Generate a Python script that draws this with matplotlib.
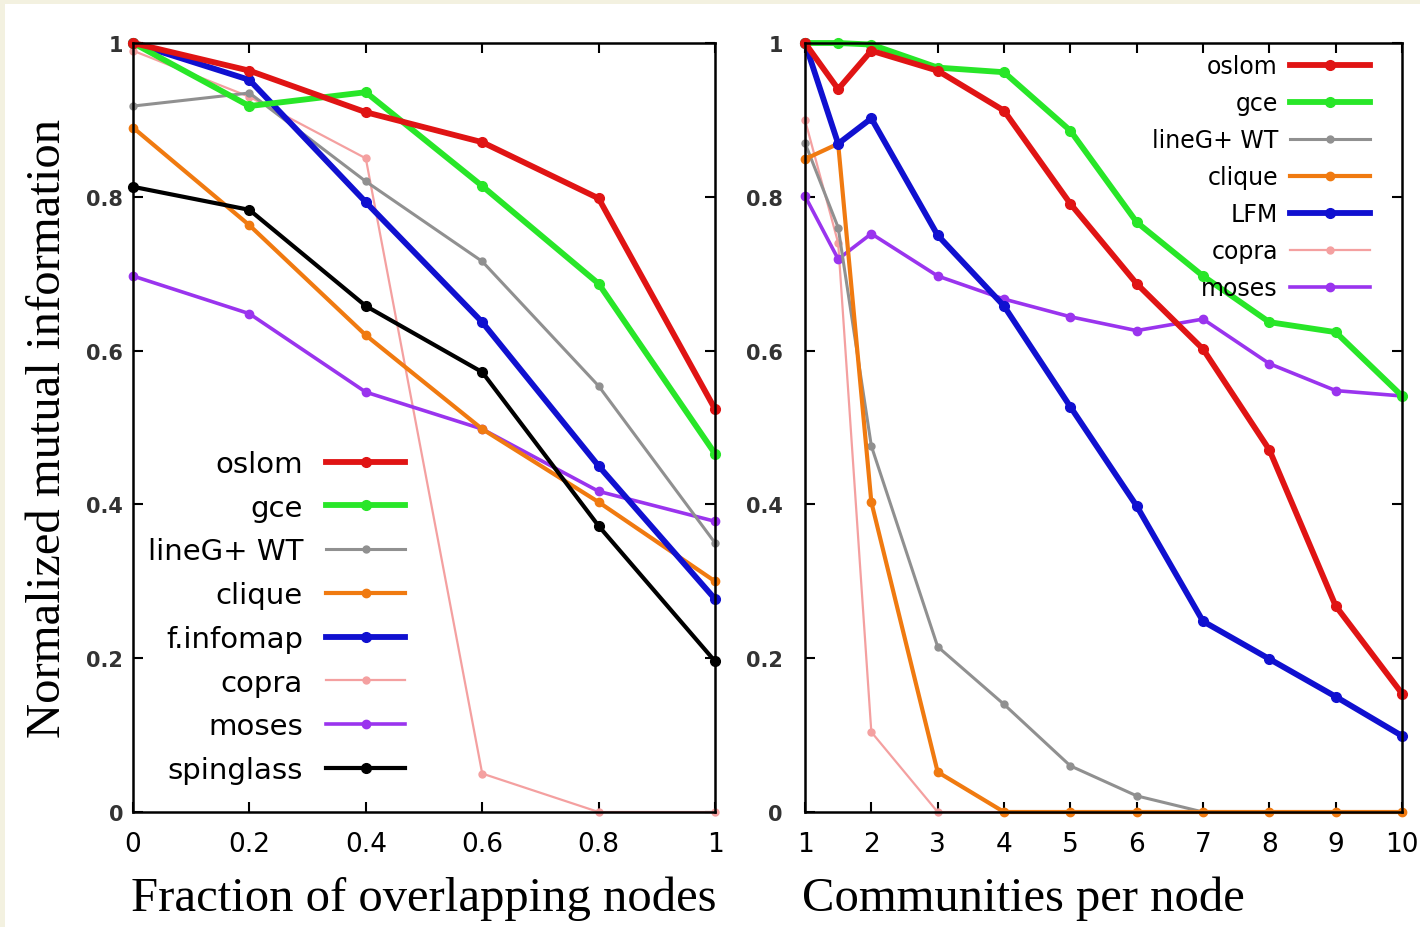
import matplotlib
matplotlib.use("Agg")
import matplotlib.pyplot as plt
from matplotlib.patches import Rectangle

# left panel: fraction of overlapping nodes
frac = [0, 0.2, 0.4, 0.6, 0.8, 1.0]
left_names = ["oslom", "gce", "lineG+ WT", "clique", "f.infomap", "copra", "moses", "spinglass"]
left_vals = {
    "oslom":     [1.00, 0.964, 0.910, 0.871, 0.798, 0.524],
    "gce":       [1.00, 0.918, 0.936, 0.814, 0.687, 0.466],
    "lineG+ WT": [0.918, 0.935, 0.820, 0.716, 0.554, 0.350],
    "clique":    [0.890, 0.763, 0.620, 0.498, 0.403, 0.300],
    "f.infomap": [1.00, 0.952, 0.793, 0.637, 0.450, 0.277],
    "copra":     [0.99, 0.930, 0.850, 0.050, 0.000, 0.000],
    "moses":     [0.697, 0.648, 0.546, 0.498, 0.417, 0.378],
    "spinglass": [0.813, 0.783, 0.658, 0.572, 0.372, 0.196],
}

# right panel: communities per node
comm = [1, 1.5, 2, 3, 4, 5, 6, 7, 8, 9, 10]
right_names = ["oslom", "gce", "lineG+ WT", "clique", "LFM", "copra", "moses"]
right_vals = {
    "oslom":     [1.00, 0.940, 0.990, 0.964, 0.912, 0.791, 0.687, 0.602, 0.471, 0.268, 0.154],
    "gce":       [1.00, 1.000, 0.998, 0.968, 0.962, 0.886, 0.767, 0.697, 0.637, 0.624, 0.541],
    "lineG+ WT": [0.870, 0.760, 0.476, 0.215, 0.140, 0.060, 0.021, 0.0, 0.0, 0.0, 0.0],
    "clique":    [0.849, 0.869, 0.403, 0.052, 0.0, 0.0, 0.0, 0.0, 0.0, 0.0, 0.0],
    "LFM":       [1.00, 0.869, 0.902, 0.750, 0.658, 0.527, 0.398, 0.248, 0.199, 0.150, 0.099],
    "copra":     [0.900, 0.740, 0.104, 0.0, 0.0, 0.0, 0.0, 0.0, 0.0, 0.0, 0.0],
    "moses":     [0.801, 0.719, 0.752, 0.697, 0.667, 0.644, 0.626, 0.641, 0.583, 0.548, 0.541],
}

styles = {
    "oslom":     dict(color="#e01414", lw=4.2, ms=7, z=9),
    "gce":       dict(color="#28e628", lw=4.2, ms=7, z=8),
    "lineG+ WT": dict(color="#909090", lw=2.2, ms=5, z=5),
    "clique":    dict(color="#f07a10", lw=3.0, ms=6, z=6),
    "f.infomap": dict(color="#1010d0", lw=4.2, ms=7, z=7),
    "LFM":       dict(color="#1010d0", lw=4.2, ms=7, z=7),
    "copra":     dict(color="#f4a0a0", lw=1.6, ms=5, z=3),
    "moses":     dict(color="#9a34ee", lw=2.6, ms=6, z=4),
    "spinglass": dict(color="#000000", lw=3.0, ms=7, z=6),
}

sans = ["DejaVu Sans"]
serif = ["Liberation Serif", "DejaVu Serif"]

fig = plt.figure(figsize=(14.2, 9.28), dpi=100, facecolor="#f3f1e0")
fig.add_artist(Rectangle((5 / 1420, 0), 1, 1 - 5 / 928, transform=fig.transFigure,
                         facecolor="white", edgecolor="none", zorder=-10))

ax1 = fig.add_axes([133 / 1420, 1 - 813 / 928, 582 / 1420, 769 / 928])
ax2 = fig.add_axes([805 / 1420, 1 - 813 / 928, 597 / 1420, 769 / 928])


def draw(ax, x, names, vals):
    for n in names:
        s = styles[n]
        ax.plot(x, vals[n], color=s["color"], lw=s["lw"], marker="o", ms=s["ms"],
                label=n, clip_on=False, zorder=s["z"])


draw(ax1, frac, left_names, left_vals)
draw(ax2, comm, right_names, right_vals)

ax1.set_xlim(0, 1)
ax1.set_xticks(frac)
ax1.set_xticklabels(["0", "0.2", "0.4", "0.6", "0.8", "1"])
ax2.set_xlim(1, 10)
ax2.set_xticks(range(1, 11))
ax2.set_xticklabels([str(i) for i in range(1, 11)])

for ax, ypad in ((ax1, 7), (ax2, 16)):
    ax.set_ylim(0, 1)
    ax.set_yticks([0, 0.2, 0.4, 0.6, 0.8, 1])
    ax.set_yticklabels(["0", "0.2", "0.4", "0.6", "0.8", "1"])
    ax.tick_params(direction="in", top=True, right=True, length=7, width=1.5)
    ax.tick_params(axis="x", pad=14, labelsize=19)
    ax.tick_params(axis="y", pad=ypad, labelsize=15)
    for lab in ax.get_yticklabels():
        lab.set_fontweight("bold")
        lab.set_color("#333333")
    for sp in ax.spines.values():
        sp.set_linewidth(1.8)
        sp.set_zorder(10)

ax1.set_xlabel("Fraction of overlapping nodes", family=serif, fontsize=35, labelpad=13)
ax2.set_xlabel("Communities per node", family=serif, fontsize=35, labelpad=13)
ax2.xaxis.label.set_x(0.365)
ax1.set_ylabel("Normalized mutual information", family=serif, fontsize=35)
ax1.yaxis.set_label_coords(-0.108, 0.5)

leg1 = ax1.legend(loc="center right", bbox_to_anchor=((405 - 133) / 582, (813 - 618) / 769),
                  frameon=False, markerfirst=False, numpoints=1, handlelength=2.7,
                  handletextpad=0.8, labelspacing=0.54, borderaxespad=0, borderpad=0,
                  prop={"family": sans, "size": 21})
leg1.set_zorder(20)
leg2 = ax2.legend(loc="center right", bbox_to_anchor=((1370 - 805) / 597, (813 - 178) / 769),
                  frameon=False, markerfirst=False, numpoints=1, handlelength=3.4,
                  handletextpad=0.5, labelspacing=0.55, borderaxespad=0, borderpad=0,
                  prop={"family": sans, "size": 17})
leg2.set_zorder(20)

fig.savefig("out.png", dpi=100, facecolor=fig.get_facecolor())
